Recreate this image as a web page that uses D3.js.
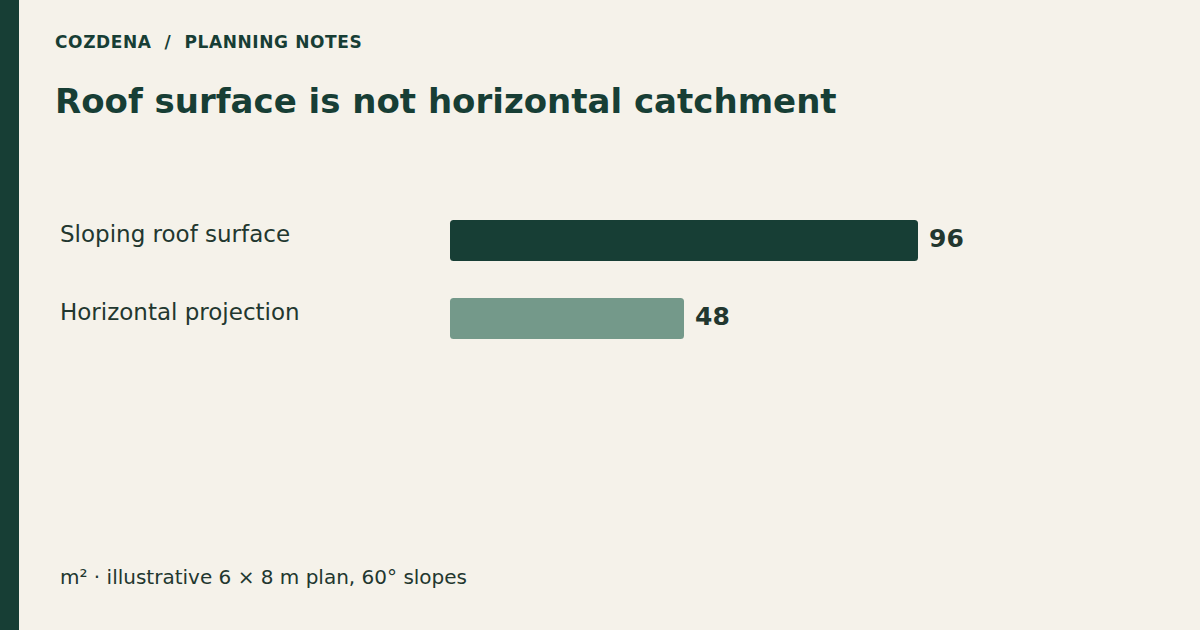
<!DOCTYPE html>
<html>
<head>
<meta charset="utf-8">
<script src="https://cdn.jsdelivr.net/npm/d3@7"></script>
<style>
  html, body { margin: 0; padding: 0; background: #f5f2ea; }
  svg { display: block; font-family: "DejaVu Sans", sans-serif; }
</style>
</head>
<body>
<script>
// chart values
const categories = ['Sloping roof surface', 'Horizontal projection'];
const values = [96, 48];
const barColors = ['#173e35', '#74998a'];

const kicker = 'COZDENA  /  PLANNING NOTES';
const title = 'Roof surface is not horizontal catchment';
const note = 'm\u00b2 \u00b7 illustrative 6 \u00d7 8 m plan, 60\u00b0 slopes';

const W = 1200, H = 630;
const ink = '#173e35';
const textInk = '#22372f';

const svg = d3.select('body').append('svg')
    .attr('width', W)
    .attr('height', H);

svg.append('rect').attr('width', W).attr('height', H).attr('fill', '#f5f2ea');
// left accent band
svg.append('rect').attr('x', 0).attr('y', 0).attr('width', 19).attr('height', H).attr('fill', ink);

svg.append('text')
    .attr('x', 55).attr('y', 48)
    .attr('fill', ink)
    .attr('font-size', 17).attr('font-weight', 'bold')
    .attr('letter-spacing', 0.6)
    .style('white-space', 'pre')
    .text(kicker);

svg.append('text')
    .attr('x', 55).attr('y', 113)
    .attr('fill', ink)
    .attr('font-size', 34).attr('font-weight', 'bold')
    .text(title);

// scales
const x = d3.scaleLinear().domain([0, 96]).range([450, 918]);
const y = d3.scaleBand().domain(categories).range([220, 376]);
const barH = 41;

const rows = svg.append('g')
    .selectAll('g')
    .data(categories)
    .join('g');

rows.append('rect')
    .attr('x', x(0))
    .attr('y', d => y(d))
    .attr('width', (d, i) => x(values[i]) - x(0))
    .attr('height', barH)
    .attr('rx', 3.5)
    .attr('fill', (d, i) => barColors[i]);

rows.append('text')
    .attr('x', 60)
    .attr('y', d => y(d) + 22)
    .attr('fill', textInk)
    .attr('font-size', 23)
    .text(d => d);

rows.append('text')
    .attr('x', (d, i) => x(values[i]) + 11)
    .attr('y', d => y(d) + 27)
    .attr('fill', textInk)
    .attr('font-size', 25).attr('font-weight', 'bold')
    .text((d, i) => values[i]);

svg.append('text')
    .attr('x', 60).attr('y', 584)
    .attr('fill', textInk)
    .attr('font-size', 20)
    .text(note);
</script>
</body>
</html>
